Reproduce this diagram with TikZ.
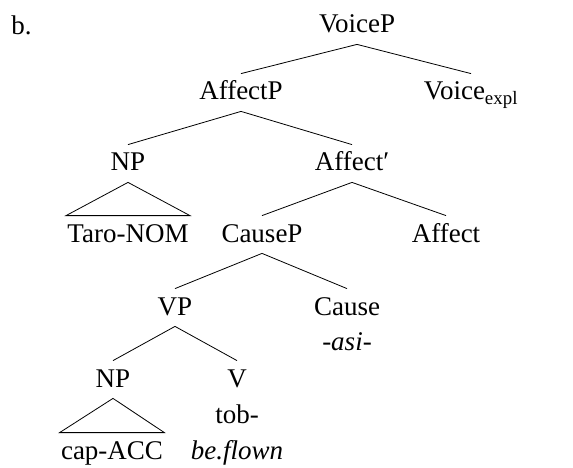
\documentclass[tikz,border=0pt]{standalone}
\usepackage{fontspec}
\setmainfont{Liberation Serif}
\usepackage{tikz}
\usetikzlibrary{positioning}

\begin{document}
\begin{tikzpicture}[x=1pt, y=-1pt, font=\fontsize{27}{32}\selectfont, line width=0.8pt,
    cat/.style={anchor=base, text height=20pt, text depth=5pt, inner ysep=6pt, inner xsep=1pt},
    gloss/.style={anchor=base, inner sep=1pt}]
				\useasboundingbox (0,0) rectangle (573,468);
				\node[gloss, anchor=base west] (ex) at (10,35) {b.};
				\node[cat] (voicep) at (357,33) {VoiceP};
				\node[cat] (affectp) at (241,100) {AffectP};
				\node[cat] (voice) at (471,100) {Voice\textsubscript{expl}};
				\node[cat] (np1) at (128,171) {NP};
				\node[cat] (affectbar) at (352,171) {Affect′};
				\node[cat] (taro) at (128,242) {Taro-NOM};
				\node[cat] (causep) at (262,242) {CauseP};
				\node[cat] (affect) at (446,242) {Affect};
				\node[cat] (vp) at (175,315) {VP};
				\node[cat] (cause) at (347,315) {Cause};
				\node[gloss] (asi) at (347,350) {\itshape -asi-};
				\node[cat] (np2) at (113,387) {NP};
				\node[cat] (v) at (237,387) {V};
				\node[gloss] (tob) at (237,423) {tob-};
				\node[cat] (cap) at (112,459) {cap-ACC};
				\node[gloss] (flown) at (237,459) {\itshape be.flown};
				
				\draw (voicep.south) -- (affectp.north);
				\draw (voicep.south) -- (voice.north);
				\draw (affectp.south) -- (np1.north);
				\draw (affectp.south) -- (affectbar.north);
				\draw (np1.south) -- (taro.north west) -- (taro.north east) -- cycle;
				\draw (affectbar.south) -- (causep.north);
				\draw (affectbar.south) -- (affect.north);
				\draw (causep.south) -- (vp.north);
				\draw (causep.south) -- (cause.north);
				\draw (vp.south) -- (np2.north);
				\draw (vp.south) -- (v.north);
				\draw (np2.south) -- (cap.north west) -- (cap.north east) -- cycle;
			\end{tikzpicture}
\end{document}
